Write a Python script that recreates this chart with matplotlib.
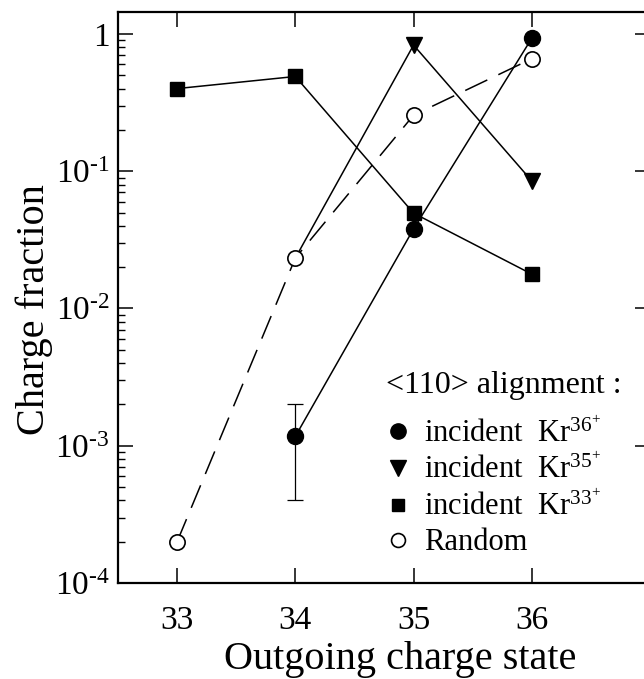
import numpy as np
import matplotlib
matplotlib.use("Agg")
import matplotlib.pyplot as plt
from matplotlib.lines import Line2D
from matplotlib.ticker import FixedLocator, LogLocator, NullFormatter

plt.rcParams['font.family'] = ['Liberation Serif', 'DejaVu Serif']
plt.rcParams['mathtext.fontset'] = 'custom'
plt.rcParams['mathtext.rm'] = 'Liberation Serif'
plt.rcParams['mathtext.it'] = 'Liberation Serif'

charge_states = [33, 34, 35, 36]
kr36 = [np.nan, 1.17e-3, 0.038, 0.93]
kr36_err_low = [np.nan, 1.17e-3 - 4e-4, 0, 0]
kr36_err_high = [np.nan, 2.0e-3 - 1.17e-3, 0, 0]
kr35 = [np.nan, 0.0233, 0.83, 0.085]
kr33 = [0.40, 0.49, 0.0495, 0.0178]
random_ = [2e-4, 0.0233, 0.256, 0.66]

y_ticks = [1, 1e-1, 1e-2, 1e-3, 1e-4]
y_tick_labels = ['1', '10$^{\u2010 1}$', '10$^{\u2010 2}$', '10$^{\u2010 3}$', '10$^{\u2010 4}$']

fig = plt.figure(figsize=(6.44, 6.79), dpi=100)
ax = fig.add_axes([118/644, (679-583)/679, 532/644, 571/679])

lw = 1.1
# lines
ax.plot(charge_states, random_, ls=(0, (16, 8)), color='black', lw=lw, zorder=2)
ax.plot(charge_states, kr33, '-', color='black', lw=lw, zorder=2)
ax.plot(charge_states, kr35, '-', color='black', lw=lw, zorder=2)
ax.plot(charge_states, kr36, '-', color='black', lw=lw, zorder=2)

# error bar
ax.errorbar(charge_states[1:2], kr36[1:2],
            yerr=[kr36_err_low[1:2], kr36_err_high[1:2]],
            fmt='none', ecolor='black', elinewidth=0.9, capsize=6, capthick=0.9, zorder=2)

# markers
ax.plot(charge_states, kr33, 's', color='black', ms=10.5, zorder=4)
ax.plot(charge_states[2:], kr35[2:], 'v', color='black', ms=11.5, zorder=4)
ax.plot(charge_states, kr36, 'o', color='black', ms=11.5, zorder=4)
ax.plot(charge_states, random_, 'o', mfc='white', mec='black', mew=1.2, ms=11, zorder=5)

ax.set_yscale('log')
ax.set_xlim(32.5, 37.0)
ax.set_ylim(1e-4, 10**0.16)

ax.set_xticks(charge_states)
ax.set_xticklabels([str(c) for c in charge_states])
ax.yaxis.set_major_locator(FixedLocator(y_ticks))
ax.set_yticklabels(y_tick_labels)
ax.yaxis.set_minor_locator(LogLocator(base=10, subs=np.arange(2, 10)))
ax.yaxis.set_minor_formatter(NullFormatter())

ax.tick_params(axis='both', which='major', direction='in', length=11, width=1.1,
               labelsize=24, top=True, right=True, pad=6)
ax.tick_params(axis='y', which='minor', direction='in', length=5, width=1.0, left=True, right=False)
ax.tick_params(axis='x', which='major', pad=16)
for s in ax.spines.values():
    s.set_linewidth(1.6)

ax.set_xlabel('Outgoing charge state', fontsize=29, labelpad=4)
ax.xaxis.label.set_x((400 - 118) / 532)
ax.set_ylabel('Charge fraction', fontsize=29, labelpad=1)
ax.yaxis.label.set_y((583 - 310) / 571)

ax.text((386 - 118) / 532, (583 - 386) / 571, '<110> alignment :', transform=ax.transAxes,
        fontsize=23, ha='left', va='center')

handles = [
    Line2D([], [], marker='o', ls='none', color='black', ms=11),
    Line2D([], [], marker='v', ls='none', color='black', ms=11),
    Line2D([], [], marker='s', ls='none', color='black', ms=9),
    Line2D([], [], marker='o', ls='none', mfc='white', mec='black', mew=1.2, ms=10),
]
labels = [r'incident  Kr$^{36^{+}}$', r'incident  Kr$^{35^{+}}$',
          r'incident  Kr$^{33^{+}}$', 'Random']
leg = ax.legend(handles, labels, loc='upper left',
                bbox_to_anchor=((386 - 118) / 532, (583 - 418) / 571), frameon=False, fontsize=22,
                handlelength=0.8, handletextpad=0.45,
                labelspacing=0.2, borderpad=0, borderaxespad=0)

fig.savefig('out.png', dpi=100)
